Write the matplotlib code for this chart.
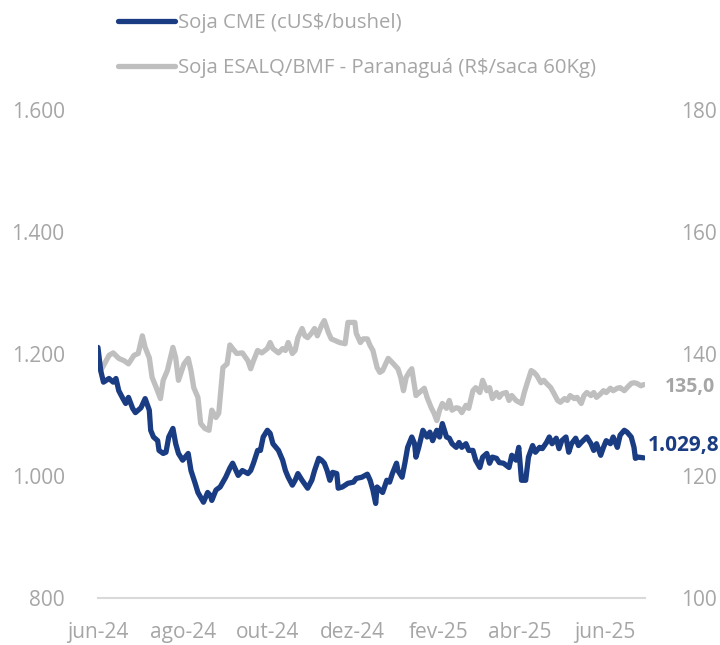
import matplotlib
matplotlib.use('Agg')
import matplotlib.pyplot as plt
from matplotlib.ticker import FuncFormatter
import numpy as np

plt.rcParams['font.family'] = ['Open Sans', 'DejaVu Sans']

inicio = np.datetime64('2024-06-01')

# Soja CME (cUS$/bushel) - dias desde 01/06/2024
dias_cme = [0, 2, 4, 8, 11, 13, 15, 18, 20, 22, 25, 27, 31, 34, 37, 38, 40, 43, 44, 47,
            49, 51, 54, 56, 58, 61, 65, 67, 70, 72, 76, 79, 81, 82, 85, 88, 92, 95, 97, 101,
            104, 108, 110, 112, 115, 117, 119, 122, 124, 126, 130, 133, 135, 137, 140, 142, 144, 147, 151, 154,
            156, 159, 161, 163, 165, 167, 169, 172, 173, 176, 180, 184, 186, 190, 194, 196, 198, 200, 201, 205,
            208, 210, 212, 215, 216, 219, 221, 223, 226, 228, 229, 231, 234, 237, 239, 241, 244, 246, 248, 251,
            253, 255, 258, 260, 262, 265, 267, 270, 272, 275, 277, 280, 282, 284, 287, 289, 292, 296, 298, 301,
            303, 305, 308, 310, 313, 315, 318, 320, 323, 325, 327, 330, 332, 334, 337, 339, 341, 344, 346, 348,
            352, 355, 357, 359, 362, 364, 366, 369, 371, 374, 376, 379, 381, 384, 386, 387, 389, 393]
cme = [1211, 1173, 1154, 1160, 1154, 1160, 1140, 1127, 1119, 1129, 1111, 1104, 1112, 1127, 1108, 1075, 1064, 1058, 1042, 1037,
       1039, 1064, 1078, 1053, 1037, 1026, 1037, 1009, 988, 973, 957, 973, 968, 960, 977, 982, 998, 1013, 1021, 1001,
       1009, 1004, 1009, 1021, 1042, 1042, 1064, 1075, 1070, 1053, 1042, 1026, 1009, 998, 985, 993, 1004, 993, 980, 993,
       1009, 1029, 1026, 1021, 1009, 993, 1006, 1004, 980, 982, 988, 990, 996, 998, 1003, 993, 977, 955, 982, 973,
       993, 990, 1004, 1021, 1009, 998, 1021, 1047, 1064, 1053, 1031, 1047, 1075, 1064, 1072, 1058, 1075, 1064, 1086, 1064,
       1062, 1053, 1047, 1055, 1047, 1053, 1042, 1042, 1026, 1014, 1031, 1037, 1021, 1031, 1029, 1022, 1021, 1014, 1034, 1026,
       1047, 993, 993, 1031, 1050, 1039, 1047, 1045, 1055, 1064, 1053, 1062, 1045, 1058, 1064, 1039, 1053, 1062, 1050, 1055,
       1064, 1053, 1042, 1053, 1034, 1047, 1058, 1053, 1064, 1047, 1067, 1075, 1072, 1064, 1047, 1029, 1031, 1029.8]

# Soja ESALQ/BMF - Paranaguá (R$/saca 60Kg)
dias_esalq = [0, 2, 4, 8, 11, 15, 19, 22, 26, 29, 32, 34, 37, 39, 42, 45, 47, 50, 54, 56,
              58, 62, 65, 67, 69, 72, 74, 77, 80, 82, 85, 87, 90, 93, 95, 97, 100, 104, 108, 110,
              112, 115, 118, 122, 124, 126, 130, 133, 135, 137, 140, 142, 144, 147, 149, 151, 154, 156, 158, 161,
              163, 166, 168, 171, 174, 178, 180, 183, 185, 186, 189, 191, 194, 196, 198, 201, 203, 205, 209, 212,
              216, 218, 220, 222, 224, 226, 229, 233, 235, 237, 240, 242, 244, 246, 248, 251, 253, 255, 258, 260,
              262, 265, 267, 270, 272, 275, 277, 280, 282, 284, 287, 289, 291, 294, 296, 298, 301, 305, 307, 309,
              312, 314, 316, 319, 321, 323, 326, 328, 331, 333, 336, 338, 340, 343, 345, 348, 350, 352, 355, 357,
              359, 362, 364, 366, 369, 371, 374, 376, 379, 381, 384, 386, 388, 391, 393]
esalq = [138.1, 137.3, 138.1, 139.8, 140.2, 139.3, 138.9, 138.4, 139.8, 140.1, 143.0, 141.1, 139.4, 136.2, 134.5, 132.7, 135.7, 137.3, 141.1, 139.4,
         135.7, 138.4, 139.3, 137.3, 134.5, 132.9, 128.6, 127.8, 127.5, 130.8, 129.6, 130.3, 137.8, 138.4, 141.5, 140.9, 140.1, 140.2, 138.9, 137.6,
         138.9, 140.6, 140.2, 140.9, 141.9, 140.9, 140.2, 140.9, 140.6, 141.9, 140.1, 140.6, 142.7, 144.2, 143.0, 142.7, 143.5, 144.2, 143.0, 144.7,
         145.5, 143.5, 142.5, 142.2, 141.9, 141.7, 145.2, 145.2, 145.2, 143.4, 141.9, 142.5, 142.5, 141.4, 140.6, 137.8, 137.0, 137.3, 139.3, 138.6,
         137.6, 136.2, 134.0, 136.2, 137.0, 137.6, 133.2, 134.0, 134.4, 132.9, 131.2, 130.3, 129.1, 130.8, 131.9, 131.1, 132.4, 130.8, 131.2, 131.1,
         130.4, 131.6, 131.1, 134.0, 134.5, 133.7, 135.7, 134.0, 134.5, 132.7, 133.7, 132.9, 133.5, 133.7, 132.4, 133.2, 132.4, 131.9, 133.7, 135.2,
         137.3, 137.0, 136.5, 135.3, 135.7, 135.2, 134.5, 133.7, 132.4, 132.1, 132.7, 132.4, 133.2, 132.7, 132.9, 131.9, 133.2, 133.7, 133.2, 133.7,
         132.9, 133.5, 134.0, 133.7, 134.4, 134.0, 134.4, 134.5, 134.0, 134.5, 135.2, 135.3, 135.2, 134.8, 135.0]

meses = ['2024-06-01', '2024-08-01', '2024-10-01', '2024-12-01', '2025-02-01', '2025-04-01', '2025-06-01']
rotulos = ['jun-24', 'ago-24', 'out-24', 'dez-24', 'fev-25', 'abr-25', 'jun-25']

azul = '#1a3c82'
cinza = '#bfbfbf'
texto = '#a6a6a6'

datas_cme = inicio + np.array(dias_cme).astype('timedelta64[D]')
datas_esalq = inicio + np.array(dias_esalq).astype('timedelta64[D]')

fig = plt.figure(figsize=(7.2, 6.45), dpi=100)
ax = fig.add_axes([0.136, 0.073, 0.760, 0.756])
ax2 = ax.twinx()

l2, = ax2.plot(datas_esalq, esalq, color=cinza, lw=3.8, solid_capstyle='round',
               label='Soja ESALQ/BMF - Paranaguá (R$/saca 60Kg)')
l1, = ax.plot(datas_cme, cme, color=azul, lw=3.8, solid_capstyle='round',
              label='Soja CME (cUS$/bushel)')
ax.set_zorder(ax2.get_zorder() + 1)
ax.patch.set_visible(False)

ax.set_ylim(800, 1600)
ax.set_yticks([800, 1000, 1200, 1400, 1600])
ax.yaxis.set_major_formatter(FuncFormatter(lambda v, p: f'{v:,.0f}'.replace(',', '.')))
ax2.set_ylim(100, 180)
ax2.set_yticks([100, 120, 140, 160, 180])

ax.set_xlim(inicio, inicio + np.timedelta64(394, 'D'))
ax.set_xticks(np.array(meses, dtype='datetime64[D]'))
ax.set_xticklabels(rotulos)

for a in (ax, ax2):
    for s in a.spines.values():
        s.set_visible(False)
    a.tick_params(length=0, labelsize=15, labelcolor=texto)
ax.spines['bottom'].set_visible(True)
ax.spines['bottom'].set_color('#d9d9d9')
ax.spines['bottom'].set_linewidth(1.5)
ax.tick_params(axis='y', pad=24)
ax2.tick_params(axis='y', pad=26)
ax.tick_params(axis='x', pad=17)

ax.annotate(f'{cme[-1]:,.1f}'.replace(',', 'X').replace('.', ',').replace('X', '.'),
            xy=(datas_cme[-1], cme[-1]), xytext=(3, 9), textcoords='offset points',
            ha='left', va='center', fontsize=15, fontweight='bold', color=azul)
ax2.annotate(f'{esalq[-1]:.1f}'.replace('.', ','),
             xy=(datas_esalq[-1], esalq[-1]), xytext=(15, -2), textcoords='offset points',
             ha='left', va='center', fontsize=14, fontweight='bold', color=texto)

fig.legend(handles=[l1, l2], loc='upper left', bbox_to_anchor=(0.139, 1.008),
           frameon=False, fontsize=14.7, labelcolor=texto, handlelength=2.75,
           handletextpad=0.15, labelspacing=1.2)

fig.savefig('out.png', dpi=100)
